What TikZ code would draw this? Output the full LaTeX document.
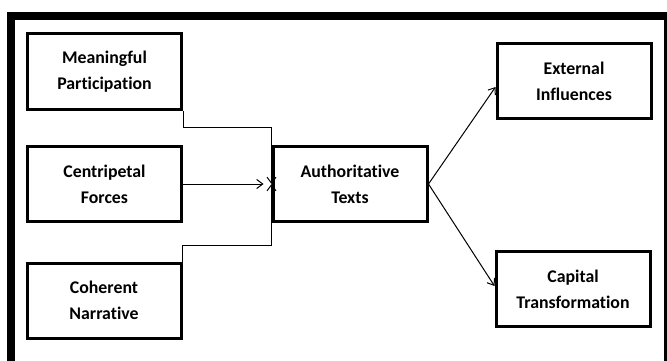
\documentclass[tikz,border=0pt]{standalone}
\usepackage{fontspec}
\setmainfont{Carlito}[Ligatures=NoCommon]
\usetikzlibrary{arrows.meta,positioning}

\begin{document}
\begin{tikzpicture}[x=1pt,y=-1pt]
\tikzstyle{block}=[rectangle,draw,line width=3pt,minimum width=154pt,minimum height=75pt,align=center,font=\fontsize{17.8}{26}\selectfont\bfseries]
\tikzstyle{link}=[line width=1pt,-{Straight Barb[length=6pt,width=9pt]}]
\useasboundingbox (0,0) rectangle (667,361);

% frame
\draw[line width=8pt] (11,361) -- (11,16) -- (667,16);
\draw[line width=3pt] (665,16) -- (665,361);

\node[block] (MP) at (104.5,71.5) {Meaningful\\Participation};
\node[block] (CF) at (104.5,184) {Centripetal\\Forces};
\node[block] (CN) at (104,300.5) {Coherent\\Narrative};
\node[block] (AT) at (350,184) {Authoritative\\Texts};
\node[block] (EI) at (574,81) {External\\Influences};
\node[block] (CT) at (573,289) {Capital\\Transformation};

\draw[link] (MP.south east) -- ++(0,17) -| (AT.west);
\draw[link] (CN.north east) -- ++(0,-16) -| (AT.west);
\draw[link] (CF.east) -- ([xshift=-8pt]AT.west);
\draw[link] (AT.east) -- ([yshift=-6pt]EI.west);
\draw[link] (AT.east) -- ([yshift=3pt]CT.west);
\end{tikzpicture}
\end{document}
